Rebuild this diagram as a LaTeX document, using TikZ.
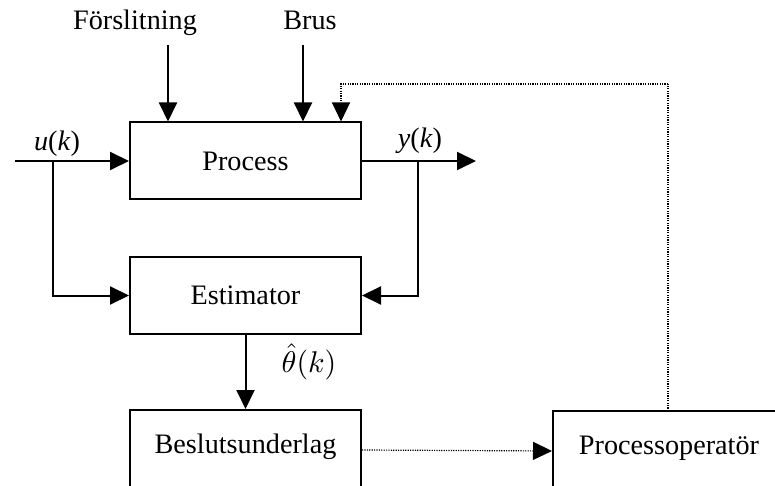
\documentclass[tikz,border=0pt]{standalone}
\usepackage{fontspec}
\setmainfont{Liberation Serif}
\usetikzlibrary{arrows.meta}
\begin{document}
\begin{tikzpicture}[x=1pt,y=-1pt,
  every node/.style={font=\fontsize{28.2}{34}\selectfont},
  blockbox/.style={draw, line width=2pt, minimum width=231pt, minimum height=77pt, inner sep=0pt},
  lowbox/.style={draw, line width=2pt, minimum width=231pt, inner ysep=0pt,
                 text height=43pt, text depth=37pt},
  sig/.style={line width=2pt, -{Triangle[length=19pt,width=18pt]}},
  dotline/.style={line width=1.2pt, dash pattern=on 1.2pt off 1.2pt},
  dotarrow/.style={dotline, -{Triangle[length=19pt,width=18pt]}},
  mathlabel/.style={font=\fontsize{10}{12}\selectfont, scale=3.0}]
\useasboundingbox (0,0) rectangle (775,486);
\clip (0,0) rectangle (775,486);

% blocks
\node[blockbox] (proc) at (245.5,161) {Process};
\node[blockbox] (est) at (245.5,295.5) {Estimator};
\node[lowbox] (besl) at (245.5,450) {Beslutsunderlag};
% the operator box runs on past the right-hand edge
\node[lowbox, minimum width=300pt, anchor=west] (oper) at (552,451) {\hspace*{-68pt}Processoperatör};

% disturbance inputs
\node[anchor=base] (wear) at (135,30) {Förslitning};
\node[anchor=base] (noise) at (310,30) {Brus};
\coordinate (wearin) at (168,45);
\coordinate (noisein) at (303,45);
\draw[sig] (wearin) -- (wearin |- proc.north);
\draw[sig] (noisein) -- (noisein |- proc.north);

% input and output signals
\node[anchor=base] (ulab) at (57,151) {\textit{u}(\textit{k})};
\node[anchor=base] (ylab) at (420,148) {\textit{y}(\textit{k})};
\coordinate (uin) at (15,161);
\coordinate (ubr) at (53,161);
\coordinate (yout) at (476,161);
\coordinate (ybr) at (418,161);
\draw[sig] (uin) -- (proc.west);
\draw[sig] (proc.east) -- (yout);
\draw[sig] (ubr) |- (est.west);
\draw[sig] (ybr) |- (est.east);

% estimate
\draw[sig] (est.south) -- (besl.north);
\node[mathlabel, anchor=base] (thlab) at (309,372) {$\hat{\theta}(k)$};

% operator loop
\coordinate (operup) at (668,411);
\draw[dotarrow] (besl.east) -- (oper.west);
\coordinate (fbcorner) at (341,84);
\draw[dotline] (operup) -- (operup |- fbcorner);
\draw[dotarrow] (operup |- fbcorner) -- (fbcorner) -- (fbcorner |- proc.north);
\end{tikzpicture}
\end{document}
